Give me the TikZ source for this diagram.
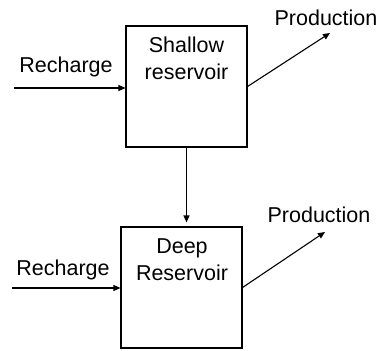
\documentclass[tikz,border=0pt]{standalone}
\usepackage{fontspec}
\setmainfont{Liberation Sans}
\usetikzlibrary{arrows.meta}
\begin{document}
\begin{tikzpicture}[x=1pt,y=-1pt,
  resbox/.style={draw,line width=1.1pt,minimum width=121pt,minimum height=121pt,inner sep=0pt},
  lbl/.style={font=\fontsize{21.5pt}{27pt}\selectfont,inner sep=0pt},
  flow/.style={line width=1.1pt,-{Triangle[length=7pt,width=6pt]}}]
\useasboundingbox (0,0) rectangle (384,351);
\node[resbox] (top) at (186.5,86.5) {};
\node[resbox] (bot) at (181.5,287.5) {};
\node[lbl,align=center] (toptxt) at (186.5,58.5) {Shallow\\reservoir};
\node[lbl,align=center] (bottxt) at (182,260) {Deep\\Reservoir};
\node[lbl] (rc1) at (66,67) {Recharge};
\node[lbl] (rc2) at (63,270) {Recharge};
\node[lbl] (pr1) at (326,18) {Production};
\node[lbl] (pr2) at (319,215) {Production};
\coordinate (s1) at (14,88);
\coordinate (s2) at (12,288);
\coordinate (e1) at (330,33);
\coordinate (e2) at (325,232);
\draw[flow] (s1) -- (top.west |- s1);
\draw[flow] (s2) -- (bot.west |- s2);
\draw[flow] (top.east) -- (e1);
\draw[flow] (bot.east) -- (e2);
\draw[flow,shorten >=4pt] (top.south) -- (top.south |- bot.north);
\end{tikzpicture}
\end{document}
